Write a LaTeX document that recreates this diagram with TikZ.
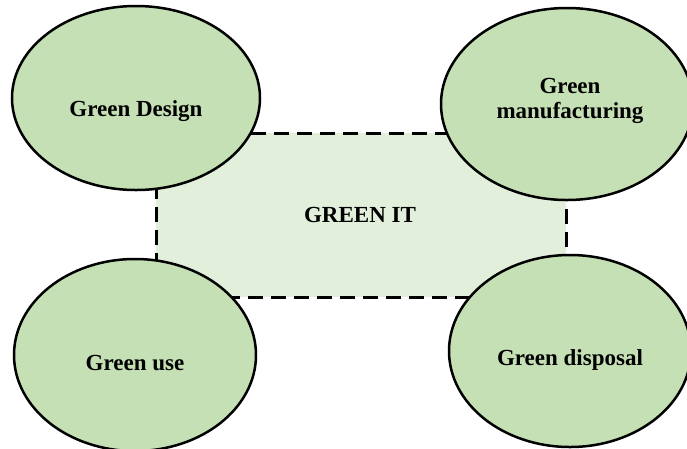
\documentclass[tikz,border=0pt]{standalone}
\usepackage{fontspec}
\setmainfont{Liberation Serif}
\usetikzlibrary{shapes.geometric}
\definecolor{bubblefill}{HTML}{C5E0B4}
\definecolor{boxfill}{HTML}{E2EFDA}
\tikzset{
  bubble/.style={ellipse, draw=black, line width=2.5pt, fill=bubblefill, inner sep=0pt},
  lab/.style={font=\fontsize{23}{25}\selectfont\bfseries, anchor=base, inner sep=0pt, align=center},
  centerbox/.style={draw=black, line width=2.8pt, dash pattern=on 15pt off 8pt, fill=boxfill},
}
\begin{document}
\begin{tikzpicture}[x=1pt,y=-1pt]
\useasboundingbox (0,0) rectangle (687,448);
\node[centerbox, minimum width=410pt, minimum height=164pt, anchor=north west] (core) at (155,132) {};
\node[lab] (coreT) at (360,222) {GREEN IT};
\node[bubble, minimum width=248pt, minimum height=184pt] (design) at (136,98) {};
\node[lab] (designT) at (136,116) {Green Design};
\node[bubble, minimum width=252pt, minimum height=192pt] (manu) at (567,104) {};
\node[lab] (manuT) at (570,118) {Green\\manufacturing};
\node[bubble, minimum width=242pt, minimum height=192pt] (use) at (135,355) {};
\node[lab] (useT) at (135,370) {Green use};
\node[bubble, minimum width=242pt, minimum height=192pt] (disp) at (570,351) {};
\node[lab] (dispT) at (570,365) {Green disposal};
\end{tikzpicture}
\end{document}
